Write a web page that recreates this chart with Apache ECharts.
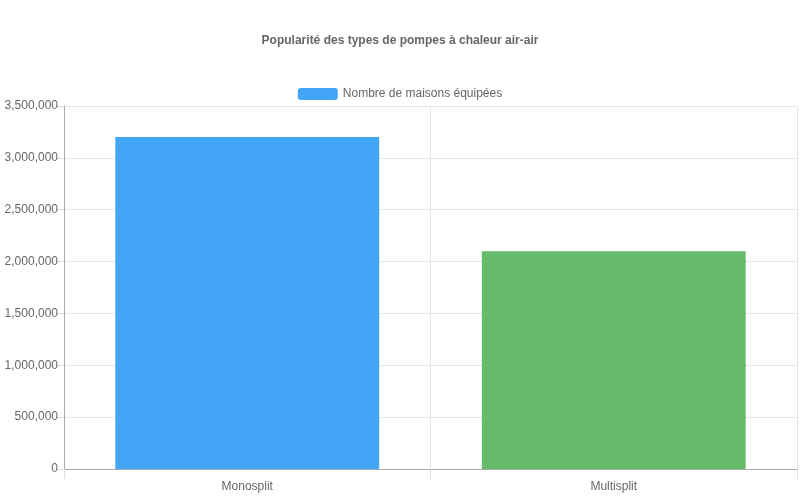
<!DOCTYPE html>
<html><head><meta charset="utf-8">
<script src="https://cdn.jsdelivr.net/npm/echarts@6/dist/echarts.min.js"></script>
<style>html,body{margin:0;padding:0;background:#fff}#c{width:800px;height:500px}</style>
</head><body><div id="c"></div>
<script>
const categories = ["Monosplit", "Multisplit"];
const values = [3200000, 2100000];
const barColors = ["#42a5f5", "#66bb6a"];
const seriesName = "Nombre de maisons équipées";
const chart = echarts.init(document.getElementById('c'));
chart.setOption({
  animation: false,
  textStyle: {fontFamily: 'Liberation Sans, Arial, sans-serif'},
  title: {text: 'Popularité des types de pompes à chaleur air-air', left: 'center', top: 30,
    textStyle: {fontSize: 12, fontWeight: 'bold', color: '#666'}},
  legend: {top: 83, left: 'center', itemWidth: 40, itemHeight: 12, itemGap: 10,
    textStyle: {fontSize: 12, color: '#666'}, data: [{name: seriesName, itemStyle: {color: '#42a5f5'}}]},
  grid: {left: 64, right: 3, top: 106, bottom: 31, containLabel: false},
  xAxis: {type: 'category', data: categories,
    axisLine: {lineStyle: {color: '#aaa'}},
    axisTick: {show: true, length: 10, lineStyle: {color: '#ddd'}},
    splitLine: {show: true, lineStyle: {color: '#e6e6e6'}},
    axisLabel: {color: '#666', fontSize: 12, margin: 12}},
  yAxis: {type: 'value', min: 0, max: 3500000, interval: 500000,
    axisLine: {show: true, lineStyle: {color: '#aaa'}},
    axisTick: {show: true, length: 8, lineStyle: {color: '#ddd'}},
    splitLine: {lineStyle: {color: '#e6e6e6'}},
    axisLabel: {color: '#666', fontSize: 12, margin: 6}},
  series: [{name: seriesName, type: 'bar', barWidth: '72%',
    data: values.map((v, i) => ({value: v, itemStyle: {color: barColors[i]}}))}]
});
</script></body></html>
